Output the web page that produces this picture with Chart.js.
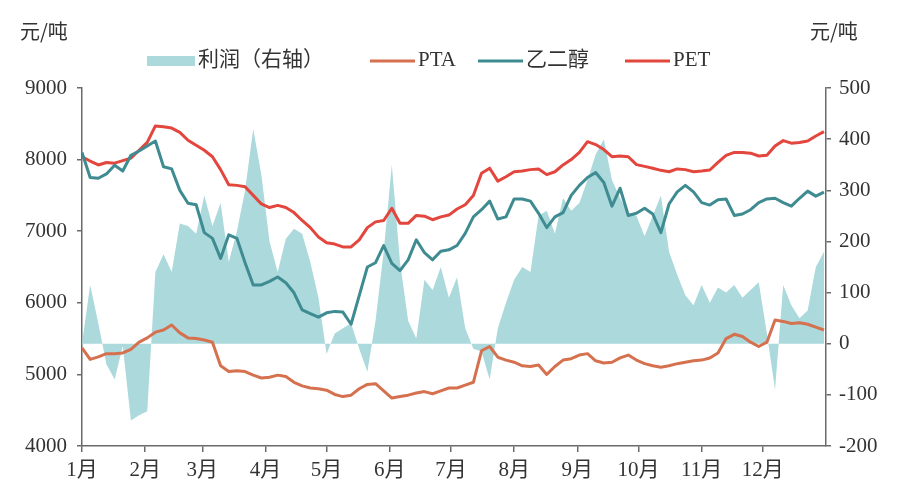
<!DOCTYPE html>
<html lang="zh-CN">
<head>
<meta charset="utf-8">
<title>PTA、乙二醇、PET价格与利润</title>
<script src="https://cdn.jsdelivr.net/npm/chart.js@4.4.1/dist/chart.umd.min.js"></script>
<style>
  html, body { margin: 0; padding: 0; background: #fff; }
  #wrap { position: relative; width: 898px; height: 486px; }
</style>
</head>
<body>
<div id="wrap"><canvas id="chart"></canvas></div>
<script>
// 采样日（一年中的第几天，每4天一个点）
const days = Array.from({ length: 92 }, (_, i) => i * 4);

// 月份刻度
const monthStart = [0, 31, 59, 90, 120, 151, 181, 212, 243, 273, 304, 334];
const monthLabels = ['1月', '2月', '3月', '4月', '5月', '6月', '7月', '8月', '9月', '10月', '11月', '12月'];

// 利润（右轴，元/吨）
const profit = [
  0, 115, 40, -40, -70, -5, -150, -140, -132, 140,
  175, 140, 235, 230, 215, 290, 230, 275, 160, 220,
  300, 420, 330, 200, 140, 205, 225, 215, 160, 90,
  -20, 20, 30, 40, -10, -55, 45, 180, 350, 160,
  45, 10, 125, 105, 150, 90, 130, 30, -10, -15,
  -70, 30, 80, 125, 150, 140, 250, 260, 215, 285,
  260, 275, 320, 370, 400, 320, 285, 255, 250, 210,
  250, 290, 180, 135, 95, 75, 115, 80, 110, 100,
  115, 90, 105, 120, 20, -90, 115, 75, 50, 65,
  150, 180
];

// PTA 价格（左轴，元/吨）
const pta = [
  5370, 5210, 5245, 5290, 5290, 5300, 5350, 5450, 5510, 5590,
  5620, 5690, 5580, 5510, 5500, 5480, 5450, 5120, 5040, 5050,
  5040, 4990, 4950, 4960, 4990, 4970, 4890, 4840, 4810, 4800,
  4780, 4720, 4690, 4710, 4800, 4860, 4870, 4770, 4670, 4690,
  4710, 4740, 4760, 4730, 4770, 4810, 4810, 4850, 4890, 5330,
  5390, 5240, 5200, 5170, 5120, 5110, 5130, 5000, 5110, 5200,
  5220, 5270, 5290, 5190, 5160, 5170, 5230, 5270, 5200, 5150,
  5120, 5100, 5120, 5150, 5170, 5190, 5200, 5230, 5300, 5500,
  5560, 5530, 5450, 5390, 5450, 5760, 5740, 5710, 5720, 5700,
  5660, 5620
];

// 乙二醇价格（左轴，元/吨）
const meg = [
  8100, 7750, 7740, 7800, 7920, 7840, 8060, 8120, 8190, 8260,
  7900, 7870, 7570, 7390, 7370, 6980, 6900, 6620, 6950, 6900,
  6560, 6250, 6250, 6300, 6360, 6280, 6140, 5900, 5850, 5800,
  5860, 5880, 5870, 5700, 6100, 6500, 6560, 6800, 6550, 6450,
  6600, 6880, 6700, 6600, 6720, 6740, 6800, 6970, 7200, 7300,
  7420, 7170, 7200, 7450, 7450, 7420, 7250, 7050, 7200, 7260,
  7500, 7640, 7750, 7820, 7680, 7350, 7600, 7220, 7250, 7320,
  7240, 6980, 7380, 7550, 7640, 7550, 7400, 7365, 7440, 7450,
  7220, 7240, 7300, 7400, 7450, 7460, 7400, 7350, 7460, 7560,
  7490, 7545
];

// PET 价格（左轴，元/吨）
const pet = [
  8040, 7980, 7925, 7960, 7950, 7985, 8020, 8130, 8240, 8470,
  8460, 8440, 8380, 8270, 8200, 8130, 8040, 7860, 7650, 7640,
  7620, 7500, 7380, 7330, 7360, 7330, 7260, 7150, 7050, 6920,
  6840, 6820, 6780, 6780, 6880, 7050, 7130, 7150, 7320, 7110,
  7110, 7220, 7210, 7160, 7200, 7225, 7310, 7370, 7500, 7810,
  7880, 7700, 7760, 7830, 7840, 7860, 7870, 7790, 7830, 7925,
  8000, 8100, 8250, 8210, 8140, 8040, 8050, 8040, 7930, 7905,
  7880, 7850, 7830, 7870, 7860, 7830, 7840, 7855, 7960, 8060,
  8100, 8100, 8090, 8050, 8060, 8190, 8265, 8230, 8240, 8260,
  8330, 8390
];

const unitText = '元/吨';
const axisColor = '#6a6a6a';
const textColor = '#333';

function toPoints(values) {
  return days.map((d, i) => ({ x: d, y: values[i] }));
}

// 顶部单位与图例
const headerPlugin = {
  id: 'header',
  afterDraw(chart) {
    const ctx = chart.ctx;
    ctx.save();
    ctx.fillStyle = textColor;
    ctx.textBaseline = 'middle';
    ctx.textAlign = 'left';
    ctx.font = '20px "Noto Sans CJK SC"';
    ctx.fillText(unitText, 20, 31);
    ctx.fillText(unitText, 810, 31);

    const legendX = [147, 370, 478, 625];
    const legendY = 61;
    ctx.font = '21px "Liberation Serif", "Noto Sans CJK SC"';
    chart.data.datasets.forEach((ds, i) => {
      const x = legendX[i];
      let w;
      if (ds.fill) {
        w = 48;
        ctx.fillStyle = ds.backgroundColor;
        ctx.fillRect(x, legendY - 5, w, 10);
      } else {
        w = 45;
        ctx.strokeStyle = ds.borderColor;
        ctx.lineWidth = 3;
        ctx.beginPath();
        ctx.moveTo(x, legendY);
        ctx.lineTo(x + w, legendY);
        ctx.stroke();
      }
      ctx.fillStyle = textColor;
      ctx.fillText(ds.label, x + w + 3, legendY - 1);
    });
    ctx.restore();
  }
};

Chart.defaults.font.family = '"Liberation Serif", "Noto Sans CJK SC", serif';
Chart.defaults.font.size = 21;
Chart.defaults.color = textColor;

const lineDefaults = { borderWidth: 3, pointRadius: 0, tension: 0, fill: false, borderJoinStyle: 'round', yAxisID: 'y', order: 0 };
const plainNumber = v => String(v);

new Chart(document.getElementById('chart'), {
  type: 'line',
  data: {
    datasets: [
      {
        label: '利润（右轴）',
        data: toPoints(profit),
        yAxisID: 'y1',
        fill: 'origin',
        backgroundColor: '#abd9dc',
        borderWidth: 0,
        pointRadius: 0,
        tension: 0,
        order: 1
      },
      Object.assign({ label: 'PTA', data: toPoints(pta), borderColor: '#d5714f' }, lineDefaults),
      Object.assign({ label: '乙二醇', data: toPoints(meg), borderColor: '#3e8b91' }, lineDefaults),
      Object.assign({ label: 'PET', data: toPoints(pet), borderColor: '#e2463d' }, lineDefaults)
    ]
  },
  options: {
    responsive: true,
    maintainAspectRatio: false,
    animation: false,
    layout: { padding: { top: 88, left: 0, right: 0, bottom: 0 } },
    plugins: {
      legend: { display: false },
      tooltip: { enabled: false }
    },
    scales: {
      x: {
        type: 'linear',
        min: 0,
        max: 365,
        afterBuildTicks(scale) {
          scale.ticks = monthStart.map(v => ({ value: v }));
        },
        afterFit(scale) { scale.height = 40; },
        ticks: {
          autoSkip: false,
          maxRotation: 0,
          padding: 6,
          callback: (v, i) => monthLabels[i]
        },
        grid: { drawOnChartArea: false, drawTicks: true, tickLength: 6, color: axisColor, lineWidth: 1.5 },
        border: { display: true, color: axisColor, width: 1.5 }
      },
      y: {
        position: 'left',
        min: 4000,
        max: 9000,
        afterFit(scale) { scale.width = 82; },
        ticks: { stepSize: 1000, padding: 10, callback: plainNumber },
        grid: { drawOnChartArea: false, drawTicks: true, tickLength: 5, color: axisColor, lineWidth: 1.5 },
        border: { display: true, color: axisColor, width: 1.5 }
      },
      y1: {
        position: 'right',
        min: -200,
        max: 500,
        afterFit(scale) { scale.width = 72; },
        ticks: { stepSize: 100, padding: 8, callback: plainNumber },
        grid: { drawOnChartArea: false, drawTicks: true, tickLength: 5, color: axisColor, lineWidth: 1.5 },
        border: { display: true, color: axisColor, width: 1.5 }
      }
    }
  },
  plugins: [headerPlugin]
});
</script>
</body>
</html>
